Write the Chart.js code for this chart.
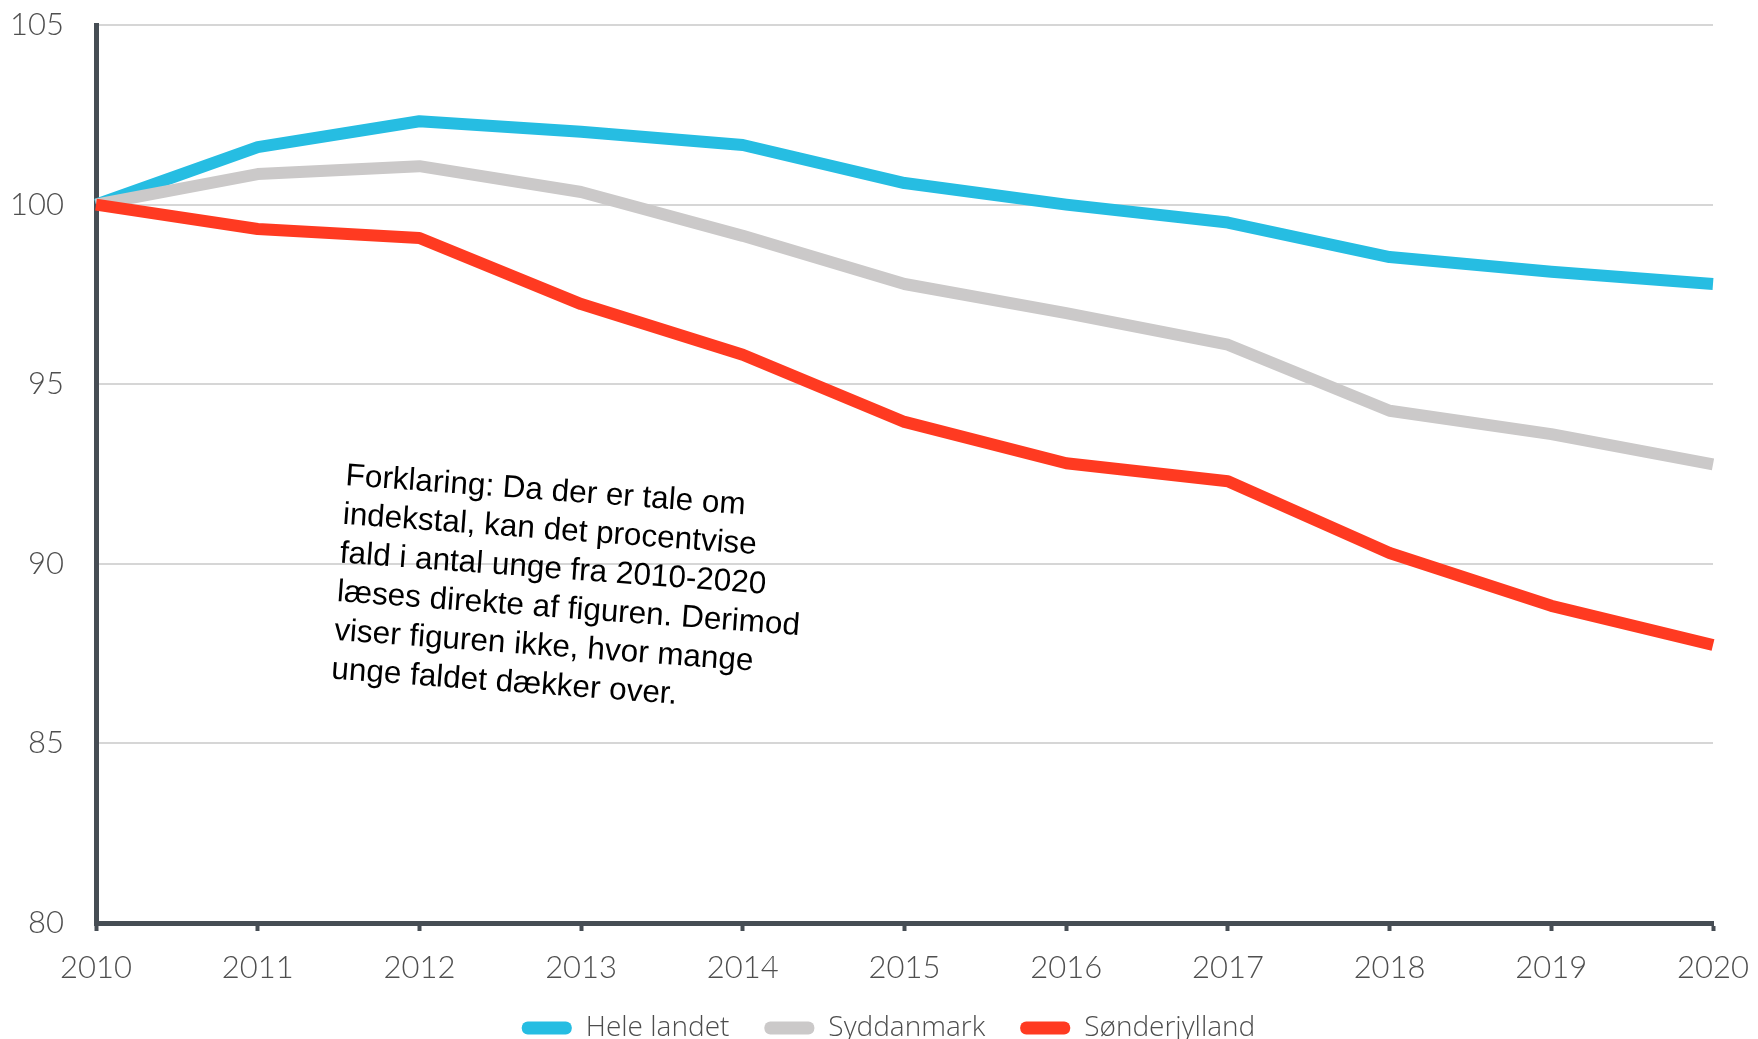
<!DOCTYPE html>
<html>
<head>
<meta charset="utf-8">
<script src="https://cdn.jsdelivr.net/npm/chart.js@4/dist/chart.umd.min.js"></script>
<style>
  html, body { margin: 0; padding: 0; background: #fff; }
  #wrap { width: 1758px; height: 1039px; position: relative; }
</style>
</head>
<body>
<div id="wrap"><canvas id="c" width="1758" height="1039"></canvas></div>
<script>
const years = ['2010','2011','2012','2013','2014','2015','2016','2017','2018','2019','2020'];
const heleLandet = [100, 101.6, 102.32, 102.03, 101.66, 100.6, 100.0, 99.5, 98.54, 98.13, 97.79];
const syddanmark = [100, 100.85, 101.07, 100.35, 99.13, 97.79, 96.98, 96.1, 94.26, 93.61, 92.77];
const sonderjylland = [100, 99.32, 99.07, 97.23, 95.82, 93.95, 92.8, 92.3, 90.3, 88.83, 87.74];
const seriesNames = ['Hele landet', 'Syddanmark', 'Sønderjylland'];
const yMin = 80, yMax = 105, yStep = 5;
const noteLines = [
  'Forklaring: Da der er tale om',
  'indekstal, kan det procentvise',
  'fald i antal unge fra 2010-2020',
  'læses direkte af figuren. Derimod',
  'viser figuren ikke, hvor mange',
  'unge faldet dækker over.'
];

const AXIS = '#464d54';
const TICK = '#4f4f4f';
const FONT = 'Lato, "Open Sans", sans-serif';
const LFONT = '"Open Sans", Lato, sans-serif';

const notePlugin = {
  id: 'note',
  afterLayout(chart) {
    if (chart.legend) { chart.legend.left -= 16; chart.legend.right -= 16; }
  },
  afterDraw(chart) {
    const ctx = chart.ctx;
    ctx.save();
    ctx.translate(345, 485);
    ctx.rotate(4.2 * Math.PI / 180);
    ctx.fillStyle = '#000';
    ctx.font = '31.5px "Liberation Sans", Arial, sans-serif';
    ctx.textBaseline = 'alphabetic';
    ctx.textAlign = 'left';
    noteLines.forEach((t, i) => ctx.fillText(t, 0, i * 38.8));
    ctx.restore();
  }
};

const ds = (label, data, color, order) => ({
  label, data,
  borderColor: color, backgroundColor: color,
  borderWidth: 12, pointRadius: 0, pointHoverRadius: 0,
  tension: 0, fill: false, borderJoinStyle: 'round', borderCapStyle: 'butt',
  order
});

new Chart(document.getElementById('c'), {
  type: 'line',
  data: {
    labels: years,
    datasets: [
      ds(seriesNames[0], heleLandet, '#26bde2', 2),
      ds(seriesNames[1], syddanmark, '#cbc9c9', 1),
      ds(seriesNames[2], sonderjylland, '#ff3a21', 0)
    ]
  },
  options: {
    responsive: false,
    animation: false,
    events: [],
    layout: { padding: { left: 0, right: 45, top: 25, bottom: 0 } },
    plugins: {
      tooltip: { enabled: false },
      legend: {
        position: 'bottom',
        fullSize: false,
        maxHeight: 60,
        labels: {
          boxWidth: 50,
          boxHeight: 13,
          useBorderRadius: true,
          borderRadius: 6,
          padding: 35,
          color: '#4d4d4d',
          font: { family: LFONT, size: 28, weight: 300 },
          sort: (a, b) => a.datasetIndex - b.datasetIndex,
          generateLabels(chart) {
            const items = Chart.defaults.plugins.legend.labels.generateLabels(chart);
            items.forEach(it => { it.lineWidth = 0; it.strokeStyle = 'rgba(0,0,0,0)'; });
            return items;
          }
        }
      }
    },
    scales: {
      x: {
        type: 'category',
        offset: false,
        afterFit(s) { s.height = 56; s.paddingLeft = 0; s.paddingRight = 0; },
        grid: { display: true, drawOnChartArea: false, drawTicks: true, tickLength: 8, tickWidth: 4, tickColor: AXIS, color: AXIS },
        border: { display: true, color: AXIS, width: 5 },
        ticks: { color: TICK, font: { family: FONT, size: 31, weight: 300 }, padding: 18.5, maxRotation: 0, autoSkip: false }
      },
      y: {
        min: yMin, max: yMax,
        afterFit(s) { s.width = 96; s.paddingTop = 0; s.paddingBottom = 0; },
        grid: { color: '#d6d6d6', lineWidth: 2, drawTicks: false },
        border: { display: true, color: AXIS, width: 5 },
        ticks: { stepSize: yStep, color: TICK, font: { family: FONT, size: 31, weight: 300 }, padding: 32 }
      }
    }
  },
  plugins: [notePlugin]
});
</script>
</body>
</html>
